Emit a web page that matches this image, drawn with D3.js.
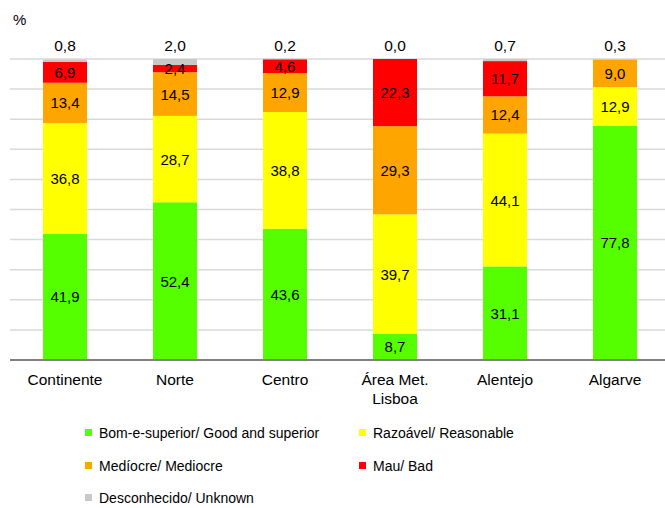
<!DOCTYPE html>
<html><head><meta charset="utf-8">
<script src="https://cdn.jsdelivr.net/npm/d3@7"></script>
<style>body{margin:0;background:#fff} text{font-family:'Liberation Sans', Arial, Helvetica, sans-serif;}</style>
</head><body><svg id="c" width="665" height="508" font-family="Liberation Sans, Arial, sans-serif"></svg>
<script>
const categories = ["Continente","Norte","Centro","Área Met.\nLisboa","Alentejo","Algarve"];
const seriesNames = ["Bom-e-superior/ Good and superior","Razoável/ Reasonable","Medíocre/ Mediocre","Mau/ Bad","Desconhecido/ Unknown"];
const good = [41.9, 52.4, 43.6, 8.7, 31.1, 77.8];
const reasonable = [36.8, 28.7, 38.8, 39.7, 44.1, 12.9];
const mediocre = [13.4, 14.5, 12.9, 29.3, 12.4, 9.0];
const bad = [6.9, 2.4, 4.6, 22.3, 11.7, 0];
const unknown = [0.8, 2.0, 0.2, 0.0, 0.7, 0.3];
const colors = ["#55ff00","#ffff00","#ffa500","#ff0000","#c8c8c8"];
const yTicks = [0,10,20,30,40,50,60,70,80,90,100];

const svg = d3.select("#c");
const x = d3.scaleBand().domain(categories).range([10, 670]).paddingInner(0.6).paddingOuter(0.3);
const y = d3.scaleLinear().domain([0,100]).range([360, 59]);
const fmt = v => v.toFixed(1).replace(".", ",");

svg.append("g").selectAll("line").data(yTicks.filter(d=>d>0)).join("line")
  .attr("x1",10).attr("x2",670).attr("y1",d=>y(d)).attr("y2",d=>y(d))
  .attr("stroke","#d9d9d9").attr("stroke-width",1.5);

const seriesVals = [good, reasonable, mediocre, bad, unknown];
const rows = categories.map((c,i)=>{const o={cat:c}; seriesNames.forEach((s,k)=>o[s]=seriesVals[k][i]); return o;});
const stacked = d3.stack().keys(seriesNames)(rows);

const g = svg.append("g");
stacked.forEach((layer,k)=>{
  g.append("g").selectAll("rect").data(layer).join("rect")
    .attr("x",d=>x(d.data.cat)).attr("width",x.bandwidth())
    .attr("y",d=>y(d[1])).attr("height",d=>Math.max(0,y(d[0])-y(d[1])))
    .attr("fill",colors[k]);
});
stacked.slice(0,4).forEach((layer,k)=>{
  g.append("g").selectAll("text").data(layer.filter(d=>d[1]-d[0]>0)).join("text")
    .attr("x",d=>x(d.data.cat)+x.bandwidth()/2)
    .attr("y",d=>(y(d[0])+y(d[1]))/2+5.5)
    .attr("text-anchor","middle").attr("font-size",15).attr("fill","#000")
    .text(d=>fmt(d[1]-d[0]));
});
g.append("g").selectAll("text").data(categories).join("text")
  .attr("x",d=>x(d)+x.bandwidth()/2).attr("y",51)
  .attr("text-anchor","middle").attr("font-size",15.5).attr("fill","#000")
  .text((d,i)=>fmt(unknown[i]));

svg.append("line").attr("x1",10).attr("x2",670).attr("y1",360).attr("y2",360)
  .attr("stroke","#808080").attr("stroke-width",2);

const cl = svg.append("g").selectAll("text").data(categories).join("text")
  .attr("x",d=>x(d)+x.bandwidth()/2).attr("y",385)
  .attr("text-anchor","middle").attr("font-size",15.5).attr("fill","#000");
cl.each(function(d){
  const lines = d.split("\n");
  d3.select(this).selectAll("tspan").data(lines).join("tspan")
    .attr("x",x(d)+x.bandwidth()/2).attr("dy",(l,i)=>i?19:0).text(l=>l);
});

svg.append("text").attr("x",13).attr("y",25).attr("font-size",15).text("%");

const legPos = [[85,433],[359,433],[85,466],[359,466],[85,498]];
const leg = svg.append("g");
seriesNames.forEach((s,k)=>{
  leg.append("rect").attr("x",legPos[k][0]).attr("y",legPos[k][1]-4).attr("width",7).attr("height",7).attr("fill",colors[k]);
  leg.append("text").attr("x",legPos[k][0]+14).attr("y",legPos[k][1]+5).attr("font-size",14).text(s);
});
</script></body></html>
